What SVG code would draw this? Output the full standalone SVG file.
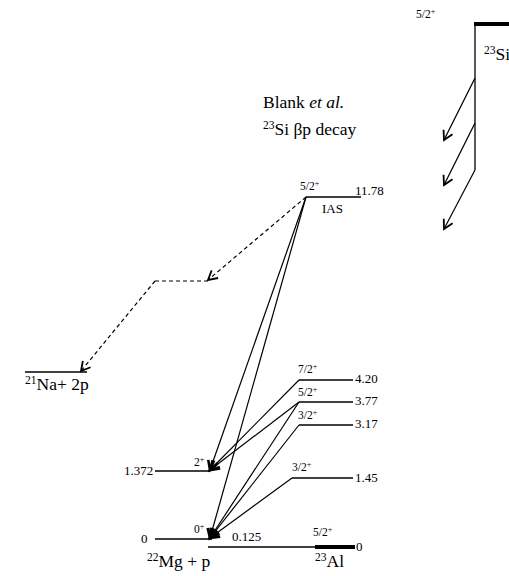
<svg xmlns="http://www.w3.org/2000/svg" width="509" height="576" viewBox="0 0 509 576">
<style>
.t text{fill:#000}
.s{font-size:11.5px}
.m{font-size:13px}
.l{font-size:17.5px}
.lv{stroke:#000;stroke-width:1.3;fill:none}
.thick{stroke:#000;stroke-width:4;fill:none}
.ar{stroke:#000;stroke-width:1.2;fill:none}
.da{stroke:#000;stroke-width:1.2;fill:none;stroke-dasharray:4 3}
</style>
<defs>
<marker id="ah" markerUnits="userSpaceOnUse" markerWidth="14" markerHeight="14" viewBox="-10 -7 12 14" refX="0" refY="0" orient="auto">
<path d="M-9,-5 L0,0 L-9,5" fill="none" stroke="#000" stroke-width="1.8"/>
</marker>
<marker id="ahb" markerUnits="userSpaceOnUse" markerWidth="14" markerHeight="14" viewBox="-10 -7 12 14" refX="0" refY="0" orient="auto">
<path d="M-9,-5 L0,0 L-9,5" fill="none" stroke="#000" stroke-width="2.6"/>
</marker>
</defs>
<g class="t" font-family="'Liberation Serif', 'DejaVu Serif', serif">
<g id="si23">
<line class="thick" x1="474" y1="24" x2="509" y2="24"/>
<line class="lv" x1="475" y1="24" x2="475" y2="170"/>
<text class="s" x="416" y="18">5/2<tspan font-size="8" dy="-4">+</tspan></text>
<text class="l" x="484" y="60"><tspan font-size="11.5" dy="-6">23</tspan><tspan dy="6">Si</tspan></text>
</g>
<g id="title">
<text class="l" x="263" y="108">Blank <tspan font-style="italic">et al.</tspan></text>
<text class="l" x="263" y="135"><tspan font-size="11.5" dy="-6">23</tspan><tspan dy="6">Si βp decay</tspan></text>
</g>
<g id="ias">
<line class="lv" x1="306" y1="197" x2="361" y2="197"/>
<text class="s" x="300" y="190">5/2<tspan font-size="8" dy="-4">+</tspan></text>
<text class="m" x="355" y="195">11.78</text>
<text class="m" x="322" y="213">IAS</text>
</g>
<g id="inter">
<line class="da" x1="155" y1="281" x2="208" y2="281"/>
</g>
<g id="na21">
<line class="lv" x1="25" y1="372" x2="87" y2="372"/>
<text class="l" x="25" y="390"><tspan font-size="11.5" dy="-6">21</tspan><tspan dy="6">Na+ 2p</tspan></text>
</g>
<g id="l420">
<line class="lv" x1="299" y1="380" x2="353" y2="380"/>
<text class="s" x="298" y="373">7/2<tspan font-size="8" dy="-4">+</tspan></text>
<text class="m" x="355" y="383">4.20</text>
</g>
<g id="l377">
<line class="lv" x1="299" y1="402" x2="353" y2="402"/>
<text class="s" x="298" y="396">5/2<tspan font-size="8" dy="-4">+</tspan></text>
<text class="m" x="355" y="405">3.77</text>
</g>
<g id="l317">
<line class="lv" x1="299" y1="425" x2="353" y2="425"/>
<text class="s" x="298" y="419">3/2<tspan font-size="8" dy="-4">+</tspan></text>
<text class="m" x="355" y="428">3.17</text>
</g>
<g id="l145">
<line class="lv" x1="292" y1="478" x2="353" y2="478"/>
<text class="s" x="292" y="471">3/2<tspan font-size="8" dy="-4">+</tspan></text>
<text class="m" x="355" y="482">1.45</text>
</g>
<g id="mg2">
<line class="lv" x1="155" y1="471" x2="210" y2="471"/>
<text class="m" x="124" y="475">1.372</text>
<text class="s" x="194" y="466">2<tspan font-size="8" dy="-4">+</tspan></text>
</g>
<g id="mg0">
<line class="lv" x1="155" y1="539" x2="212" y2="539"/>
<text class="m" x="141" y="543">0</text>
<text class="s" x="194" y="533">0<tspan font-size="8" dy="-4">+</tspan></text>
<text class="l" x="147" y="567"><tspan font-size="11.5" dy="-6">22</tspan><tspan dy="6">Mg + p</tspan></text>
</g>
<g id="al23">
<line class="lv" x1="208" y1="547" x2="316" y2="547"/>
<line class="thick" x1="315" y1="547" x2="355" y2="547"/>
<text class="m" x="232" y="541">0.125</text>
<text class="s" x="313" y="536">5/2<tspan font-size="8" dy="-4">+</tspan></text>
<text class="m" x="356" y="551">0</text>
<text class="l" x="315" y="567"><tspan font-size="11.5" dy="-6">23</tspan><tspan dy="6">Al</tspan></text>
</g>
</g>
<g id="connectors">
<line class="ar" x1="475" y1="78" x2="444" y2="140" marker-end="url(#ah)"/>
<line class="ar" x1="475" y1="123" x2="444" y2="185" marker-end="url(#ah)"/>
<line class="ar" x1="475" y1="170" x2="444" y2="229" marker-end="url(#ah)"/>
<line class="da" x1="306" y1="197" x2="208" y2="280" marker-end="url(#ah)"/>
<line class="da" x1="155" y1="281" x2="81" y2="371" marker-end="url(#ah)"/>
<line class="ar" x1="306" y1="197" x2="210" y2="470" marker-end="url(#ahb)"/>
<line class="ar" x1="306" y1="197" x2="210" y2="538" marker-end="url(#ahb)"/>
<line class="ar" x1="299" y1="380" x2="210" y2="470" marker-end="url(#ahb)"/>
<line class="ar" x1="299" y1="402" x2="210" y2="470" marker-end="url(#ahb)"/>
<line class="ar" x1="299" y1="402" x2="210" y2="538" marker-end="url(#ahb)"/>
<line class="ar" x1="299" y1="425" x2="210" y2="538" marker-end="url(#ahb)"/>
<line class="ar" x1="292" y1="478" x2="210" y2="538" marker-end="url(#ahb)"/>
</g>
</svg>
